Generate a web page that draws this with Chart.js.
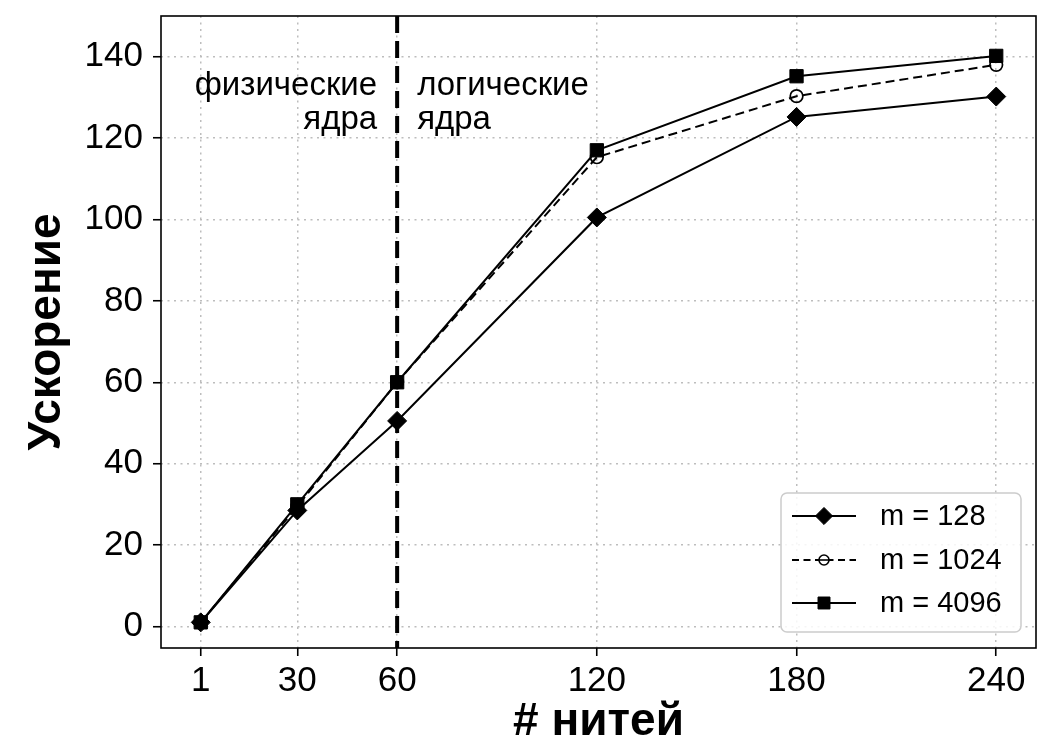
<!DOCTYPE html>
<html>
<head>
<meta charset="utf-8">
<script src="https://cdn.jsdelivr.net/npm/chart.js@4.4.1/dist/chart.umd.min.js"></script>
<style>
  html, body { margin: 0; padding: 0; background: #fff; }
  #wrap { width: 1058px; height: 748px; }
</style>
</head>
<body>
<div id="wrap"><canvas id="chart" width="1058" height="748"></canvas></div>
<script>
// data
const threads = [1, 30, 60, 120, 180, 240];
const speedup128 = [1, 28.5, 50.5, 100.5, 125.2, 130.2];
const speedup1024 = [1, 29.5, 60, 115.3, 130.3, 138];
const speedup4096 = [1, 30, 60, 117, 135.2, 140.2];
const seriesNames = ['m = 128', 'm = 1024', 'm = 4096'];
const xTicks = [1, 30, 60, 120, 180, 240];
const yTicks = [0, 20, 40, 60, 80, 100, 120, 140];
const splitAt = 60;
const leftLabel = ['физические', 'ядра'];
const rightLabel = ['логические', 'ядра'];

const FONT = '"Liberation Sans", Arial, sans-serif';
const toPts = (ys) => threads.map((x, i) => ({ x: x, y: ys[i] }));

const datasets = [
  { label: seriesNames[0], data: toPts(speedup128), order: 3,
    borderColor: '#000', borderWidth: 2, pointStyle: 'rectRot', pointRadius: 9.5,
    pointBackgroundColor: '#000', pointBorderColor: '#000', pointBorderWidth: 1 },
  { label: seriesNames[1], data: toPts(speedup1024), order: 2,
    borderColor: '#000', borderWidth: 2, borderDash: [9, 5], pointStyle: 'circle', pointRadius: 6.3,
    pointBackgroundColor: 'rgba(0,0,0,0)', pointBorderColor: '#000', pointBorderWidth: 1.7 },
  { label: seriesNames[2], data: toPts(speedup4096), order: 1,
    borderColor: '#000', borderWidth: 2, pointStyle: 'rect', pointRadius: 9.4,
    pointBackgroundColor: '#000', pointBorderColor: '#000', pointBorderWidth: 1 }
];

// vertical split line + the two captions, under the data lines
const splitPlugin = {
  id: 'split',
  beforeDatasetsDraw(chart) {
    const { ctx, chartArea: a, scales: { x, y } } = chart;
    const px = x.getPixelForValue(splitAt);
    ctx.save();
    ctx.strokeStyle = '#000';
    ctx.lineWidth = 4;
    ctx.setLineDash([17, 8]);
    ctx.beginPath();
    ctx.moveTo(px, a.top);
    ctx.lineTo(px, a.bottom);
    ctx.stroke();
    ctx.setLineDash([]);
    ctx.fillStyle = '#000';
    ctx.font = '33px ' + FONT;
    ctx.textBaseline = 'alphabetic';
    const base = y.getPixelForValue(130.6);
    ctx.textAlign = 'right';
    leftLabel.forEach((t, i) => ctx.fillText(t, px - 20, base + i * 34));
    ctx.textAlign = 'left';
    rightLabel.forEach((t, i) => ctx.fillText(t, px + 20, base + i * 34));
    ctx.restore();
  }
};

// frame, axis titles, legend
const framePlugin = {
  id: 'frame',
  afterDraw(chart) {
    const { ctx, chartArea: a } = chart;
    ctx.save();
    ctx.strokeStyle = '#000';
    ctx.lineWidth = 1.6;
    ctx.strokeRect(a.left, a.top, a.right - a.left, a.bottom - a.top);

    ctx.fillStyle = '#000';
    ctx.font = 'bold 46px ' + FONT;
    ctx.textAlign = 'center';
    ctx.textBaseline = 'middle';
    ctx.fillText('# нитей', (a.left + a.right) / 2, 722);
    ctx.save();
    ctx.translate(47, (a.top + a.bottom) / 2);
    ctx.rotate(-Math.PI / 2);
    ctx.fillText('Ускорение', 0, 0);
    ctx.restore();

    // legend box
    const bx = 781, by = 493, bw = 240, bh = 139, r = 6;
    ctx.beginPath();
    ctx.moveTo(bx + r, by);
    ctx.arcTo(bx + bw, by, bx + bw, by + bh, r);
    ctx.arcTo(bx + bw, by + bh, bx, by + bh, r);
    ctx.arcTo(bx, by + bh, bx, by, r);
    ctx.arcTo(bx, by, bx + bw, by, r);
    ctx.closePath();
    ctx.fillStyle = 'rgba(255,255,255,0.85)';
    ctx.fill();
    ctx.strokeStyle = '#cccccc';
    ctx.lineWidth = 1.5;
    ctx.stroke();

    const rows = [516, 560, 603];
    ctx.font = '29px ' + FONT;
    ctx.textAlign = 'left';
    ctx.textBaseline = 'middle';
    datasets.forEach((ds, i) => {
      const ry = rows[i];
      ctx.strokeStyle = '#000';
      ctx.lineWidth = 2;
      ctx.setLineDash(ds.borderDash ? [7, 4.5] : []);
      ctx.beginPath();
      ctx.moveTo(792, ry);
      ctx.lineTo(856, ry);
      ctx.stroke();
      ctx.setLineDash([]);
      if (ds.pointStyle === 'circle') {
        ctx.lineWidth = 1.6;
        ctx.fillStyle = '#fff';
        ctx.beginPath();
        ctx.arc(824, ry, 5, 0, Math.PI * 2);
        ctx.fill();
        ctx.stroke();
        ctx.beginPath();
        ctx.moveTo(819, ry);
        ctx.lineTo(829, ry);
        ctx.stroke();
      } else {
        ctx.fillStyle = '#000';
        ctx.lineWidth = 1;
        Chart.helpers.drawPoint(ctx, {
          pointStyle: ds.pointStyle,
          radius: ds.pointRadius * 0.9,
          borderWidth: 1,
          rotation: 0
        }, 824, ry);
      }
      ctx.fillStyle = '#000';
      ctx.fillText(ds.label, 880, ry + 1);
    });
    ctx.restore();
  }
};

const gridCommon = {
  color: '#bdbdbd',
  lineWidth: 1.5,
  drawTicks: true,
  tickLength: 8,
  tickColor: '#000',
  tickWidth: 1.6,
  tickBorderDash: []
};

const noPad = (s) => { s.paddingTop = 0; s.paddingBottom = 0; s.paddingLeft = 0; s.paddingRight = 0; };

new Chart(document.getElementById('chart'), {
  type: 'line',
  data: { datasets: datasets },
  plugins: [splitPlugin, framePlugin],
  options: {
    responsive: false,
    animation: false,
    layout: { padding: { top: 16, right: 22, left: 0, bottom: 0 } },
    plugins: { legend: { display: false }, tooltip: { enabled: false } },
    elements: { line: { tension: 0 } },
    scales: {
      x: {
        type: 'linear',
        min: -10.95,
        max: 251.95,
        afterBuildTicks: (s) => { s.ticks = xTicks.map(v => ({ value: v })); },
        afterFit: (s) => { s.height = 100; noPad(s); },
        grid: gridCommon,
        border: { display: false, dash: [2, 4.5] },
        ticks: { color: '#000', font: { family: FONT, size: 35 }, padding: 4, maxRotation: 0, callback: (v) => String(v) }
      },
      y: {
        type: 'linear',
        min: -5.3,
        max: 150,
        afterBuildTicks: (s) => { s.ticks = yTicks.map(v => ({ value: v })); },
        afterFit: (s) => { s.width = 161; noPad(s); },
        grid: gridCommon,
        border: { display: false, dash: [2, 4.5] },
        ticks: { color: '#000', font: { family: FONT, size: 35 }, padding: 10, callback: (v) => String(v) }
      }
    }
  }
});
</script>
</body>
</html>
